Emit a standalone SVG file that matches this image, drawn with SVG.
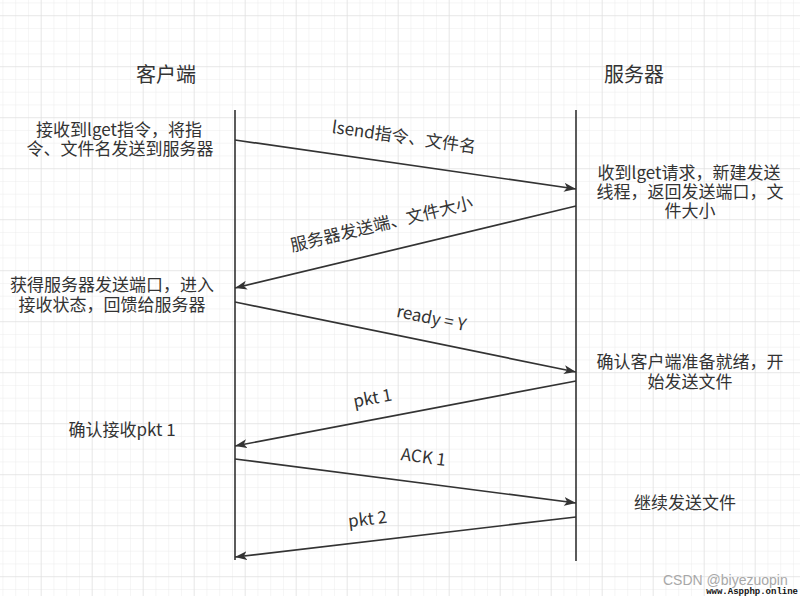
<svg xmlns="http://www.w3.org/2000/svg" width="800" height="596" viewBox="0 0 800 596">
<style>
.t{font-family:"Microsoft YaHei","Noto Sans CJK SC","Noto Sans",sans-serif;font-size:17px;fill:#333;text-anchor:middle}
.title{font-size:20px}
.life{stroke:#333;stroke-width:1.6;fill:none}
.msg{stroke:#333;stroke-width:1.7;fill:none;marker-end:url(#ah)}
</style>
<defs>
<pattern id="minor" x="2.45" y="2.45" width="12.75" height="12.75" patternUnits="userSpaceOnUse">
<path d="M0,0 H12.75 M0,0 V12.75" stroke="#ebebeb" stroke-width="1" fill="none"/>
</pattern>
<pattern id="major" x="-10.3" y="-35.8" width="51" height="51" patternUnits="userSpaceOnUse">
<path d="M0,0 H51 M0,0 V51" stroke="#dcdcdc" stroke-width="1" fill="none"/>
</pattern>
<marker id="ah" viewBox="0 0 12 9" refX="12" refY="4.5" markerWidth="12" markerHeight="9" markerUnits="userSpaceOnUse" orient="auto">
<path d="M0,0 L12,4.5 L0,9 L3,4.5 Z" fill="#333"/>
</marker>
</defs>
<rect width="800" height="596" fill="#fff"/>
<rect width="800" height="596" fill="url(#minor)"/>
<rect width="800" height="596" fill="url(#major)"/>

<g id="client">
<text class="t title" x="166" y="82">客户端</text>
<line class="life" x1="235" y1="110" x2="235" y2="560"/>
</g>
<g id="server">
<text class="t title" x="634" y="82">服务器</text>
<line class="life" x1="576" y1="110" x2="576" y2="561"/>
</g>

<g id="note-c1">
<text class="t" x="119" y="136">接收到lget指令，将指</text>
<text class="t" x="120" y="155">令、文件名发送到服务器</text>
</g>
<g id="note-s1">
<text class="t" x="689" y="179">收到lget请求，新建发送</text>
<text class="t" x="690" y="198">线程，返回发送端口，文</text>
<text class="t" x="690" y="217">件大小</text>
</g>
<g id="note-c2">
<text class="t" x="112" y="291">获得服务器发送端口，进入</text>
<text class="t" x="112" y="311">接收状态，回馈给服务器</text>
</g>
<g id="note-s2">
<text class="t" x="690" y="368">确认客户端准备就绪，开</text>
<text class="t" x="690" y="388">始发送文件</text>
</g>
<g id="note-c3">
<text class="t" x="122" y="436">确认接收pkt 1</text>
</g>
<g id="note-s3">
<text class="t" x="685" y="509">继续发送文件</text>
</g>

<g id="connectors">
<line class="msg" x1="235" y1="140" x2="576" y2="189"/>
<line class="msg" x1="576" y1="206" x2="235" y2="288"/>
<line class="msg" x1="235" y1="302" x2="576" y2="372"/>
<line class="msg" x1="576" y1="381" x2="235" y2="446"/>
<line class="msg" x1="235" y1="459" x2="576" y2="503"/>
<line class="msg" x1="576" y1="517" x2="235" y2="557"/>
<text class="t" transform="translate(404,137) rotate(8)" x="0" y="6">lsend指令、文件名</text>
<text class="t" transform="translate(381.5,224) rotate(-13.5)" x="0" y="6">服务器发送端、文件大小</text>
<text class="t" transform="translate(431.5,318) rotate(11.6)" x="0" y="6">ready = Y</text>
<text class="t" transform="translate(372.5,398) rotate(-10.8)" x="0" y="6">pkt 1</text>
<text class="t" transform="translate(423.5,457) rotate(7.4)" x="0" y="6">ACK 1</text>
<text class="t" transform="translate(367.5,519) rotate(-6.7)" x="0" y="6">pkt 2</text>
</g>

<g id="watermark">
<text x="663" y="585" font-family="Liberation Sans, Arial, sans-serif" font-size="14" fill="#a8a8a8">CSDN @biyezuopin</text>
<text x="798" y="594" text-anchor="end" font-family="Liberation Mono, Courier New, monospace" font-size="9" font-weight="bold" fill="#111">www.Aspphp.online</text>
</g>
</svg>
